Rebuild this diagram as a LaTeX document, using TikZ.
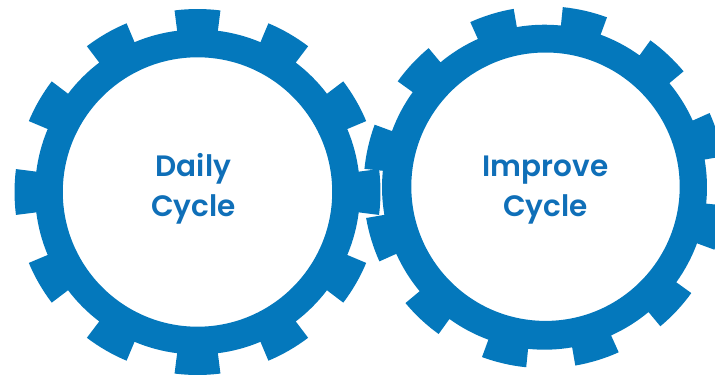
\documentclass[tikz,border=0pt]{standalone}
\usepackage{fontspec}
\setmainfont{Poppins}[BoldFont=Poppins SemiBold]
\definecolor{gearblue}{HTML}{0478BC}
\definecolor{labelblue}{HTML}{0F6FB8}
\newcommand{\gear}[7]{% cx, cy, rotation, hole cx, hole cy, hole r, tip r
  \fill[gearblue,even odd rule] ({#1+#7*cos(#3-7.2)},{#2+#7*sin(#3-7.2)})
    foreach \a in {0,30,...,330}{
      arc[start angle={#3+\a-7.2},end angle={#3+\a+7.2},radius=#7]
      -- ({#1+162.5*cos(#3+\a+7.2)},{#2+162.5*sin(#3+\a+7.2)})
      arc[start angle={#3+\a+7.2},end angle={#3+\a+30-7.2},radius=162.5]
      -- ({#1+#7*cos(#3+\a+30-7.2)},{#2+#7*sin(#3+\a+30-7.2)})
    } -- cycle
    (#4+#6,#5) arc[start angle=0,end angle=360,radius=#6];
}
\tikzset{gearlabel/.style={text=labelblue,font=\bfseries\fontsize{29.5}{40}\selectfont,align=center,inner sep=0pt}}
\begin{document}
\begin{tikzpicture}[x=1pt,y=1pt]
\useasboundingbox (0,0) rectangle (715,376);
\clip (0,0) rectangle (715,376);
\gear{197.5}{184}{0}{197.5}{184}{134.7}{183}
\gear{544.5}{188.8}{17}{545.5}{189.3}{134.2}{181}
\node[gearlabel] (daily) at (193.5,187) {Daily\\Cycle};
\node[gearlabel] (improve) at (545.5,186) {Improve\\Cycle};
\end{tikzpicture}
\end{document}
